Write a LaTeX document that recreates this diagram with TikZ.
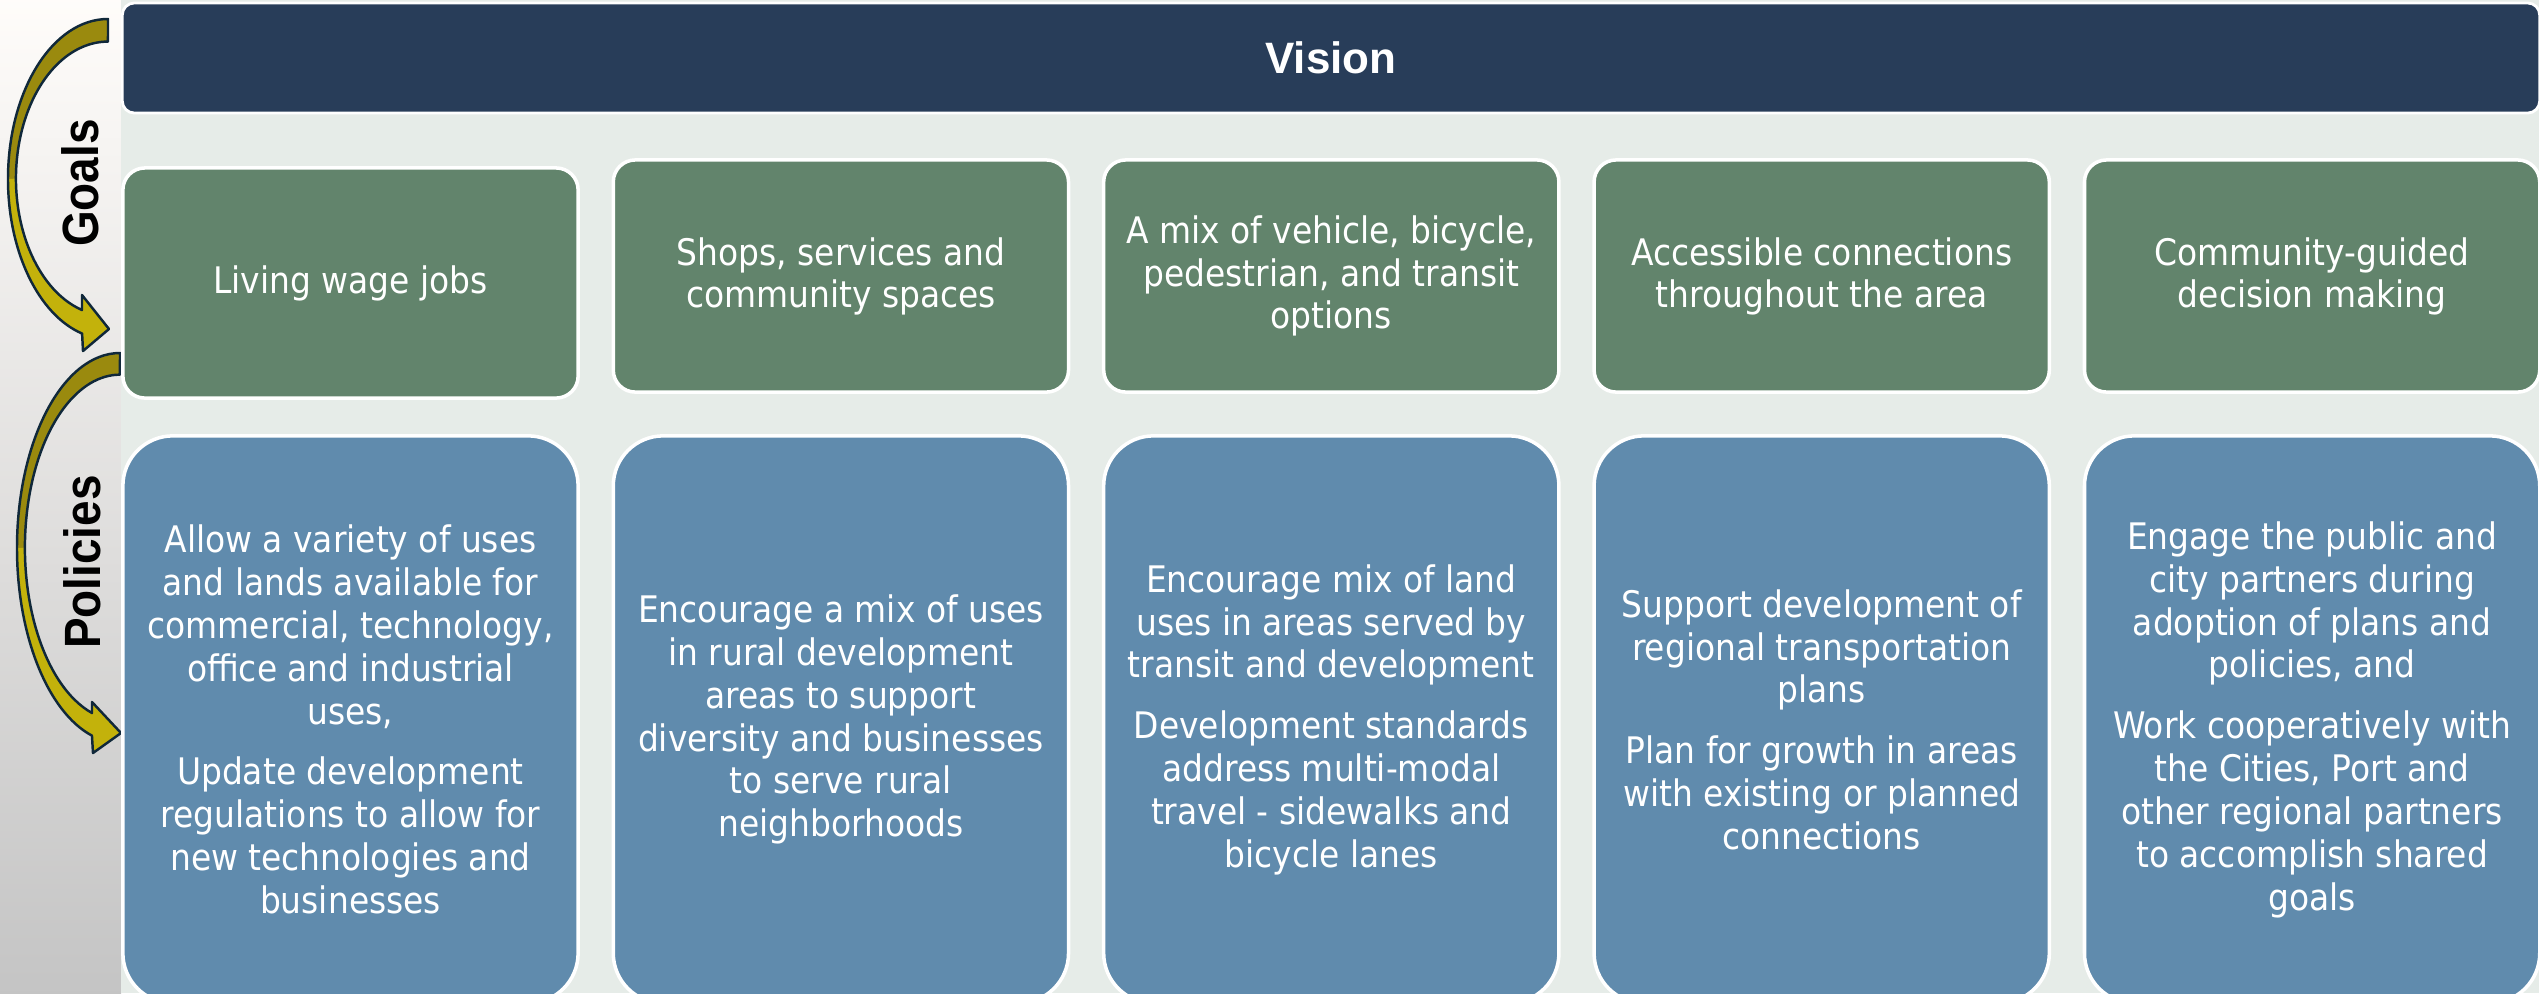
\documentclass[tikz,border=0pt]{standalone}
\usepackage{fontspec}
\setmainfont{DejaVu Sans}[FakeStretch=0.9]
\newfontfamily\labelfont{Liberation Sans}[FakeStretch=0.9]
\newfontfamily\titlefont{Liberation Sans}

\definecolor{visionblue}{HTML}{283D59}
\definecolor{goalgreen}{HTML}{62846C}
\definecolor{policyblue}{HTML}{608BAD}
\definecolor{panelbg}{HTML}{E6ECE8}
\definecolor{olivedark}{HTML}{9A8A0E}
\definecolor{olivelight}{HTML}{C3B20B}
\definecolor{arrowedge}{HTML}{10283A}

\begin{document}
\begin{tikzpicture}[x=0.01cm,y=-0.01cm,
  visionbar/.style={fill=visionblue,draw=white,line width=0.8pt,rounded corners=0.12cm,
    minimum width=24.16cm,minimum height=1.1cm,text=white,
    font=\titlefont\bfseries\fontsize{12.5}{14}\selectfont},
  goalbox/.style={fill=goalgreen,draw=white,line width=1pt,rounded corners=0.22cm,
    minimum width=4.55cm,minimum height=2.32cm,text=white,align=center,
    font=\fontsize{10.4}{12}\selectfont},
  policybox/.style={fill=policyblue,draw=white,line width=1pt,rounded corners=0.5cm,
    minimum width=4.55cm,minimum height=5.67cm,text=white,align=center,
    font=\fontsize{10.4}{12.2}\selectfont},
  sidelabel/.style={rotate=90,font=\labelfont\bfseries\fontsize{14.5}{16}\selectfont},
  bentarrow/.style={draw=arrowedge,line width=0.7pt,line join=round}]
  \useasboundingbox (0,0) rectangle (2539,993);
  % fondo: franja gris a la izquierda, panel claro
  \shade[top color=black!8!orange!2,middle color=black!12,bottom color=black!23] (0,0) rectangle (121,993);
  \fill[panelbg] (121,0) rectangle (2539,993);

  % flecha curva superior (Goals)
  \fill[olivedark] (108,19) arc[start angle=270,end angle=180,x radius=100,y radius=160]
    -- (16,179) arc[start angle=180,end angle=270,x radius=92,y radius=137] -- cycle;
  \fill[olivelight] (8,179) arc[start angle=180,end angle=105,x radius=100,y radius=160]
    -- (83,351) -- (109,329) -- (82,295) -- (82,310)
    arc[start angle=106.4,end angle=180,x radius=92,y radius=137] -- cycle;
  \draw[bentarrow] (108,19) arc[start angle=270,end angle=105,x radius=100,y radius=160]
    -- (83,351) -- (109,329) -- (82,295) -- (82,310)
    arc[start angle=106.4,end angle=270,x radius=92,y radius=137] -- cycle;
  % flecha curva inferior (Policies)
  \fill[olivedark] (120,353) arc[start angle=270,end angle=180,x radius=103,y radius=195]
    -- (25,548) arc[start angle=180,end angle=270,x radius=95,y radius=173] -- cycle;
  \fill[olivelight] (17,548) arc[start angle=180,end angle=105.8,x radius=103,y radius=195]
    -- (93,753) -- (121,733) -- (92,702) -- (92,713)
    arc[start angle=107.1,end angle=180,x radius=95,y radius=173] -- cycle;
  \draw[bentarrow] (120,353) arc[start angle=270,end angle=105.8,x radius=103,y radius=195]
    -- (93,753) -- (121,733) -- (92,702) -- (92,713)
    arc[start angle=107.1,end angle=270,x radius=95,y radius=173] -- cycle;

  \node[sidelabel] (goalslabel) at (80,183) {Goals};
  \node[sidelabel] (policieslabel) at (82,562) {Policies};

  % vision
  \node[visionbar] (vision) at (1331,58) {Vision};

  % goals (la primera un poco mas abajo)
  \node[goalbox,minimum height=2.3cm] (goal1) at (350.5,283) {Living wage jobs};
  \node[goalbox] (goal2) at (840.9,276) {Shops, services and\\community spaces};
  \node[goalbox] (goal3) at (1331.3,276) {A mix of vehicle, bicycle,\\pedestrian, and transit\\options};
  \node[goalbox] (goal4) at (1821.7,276) {Accessible connections\\throughout the area};
  \node[goalbox] (goal5) at (2312.1,276) {Community-guided\\decision making};

  % policies
  \node[policybox] (pol1) at (350.5,719.5) {Allow a variety of uses\\and lands available for\\commercial, technology,\\office and industrial\\uses,\\[5pt]
    Update development\\regulations to allow for\\new technologies and\\businesses};
  \node[policybox] (pol2) at (840.9,719.5) {Encourage a mix of uses\\in rural development\\areas to support\\diversity and businesses\\to serve rural\\neighborhoods};
  \node[policybox] (pol3) at (1331.3,719.5) {Encourage mix of land\\uses in areas served by\\transit and development\\[5pt]
    Development standards\\address multi-modal\\travel - sidewalks and\\bicycle lanes};
  \node[policybox] (pol4) at (1821.7,719.5) {Support development of\\regional transportation\\plans\\[5pt]
    Plan for growth in areas\\with existing or planned\\connections};
  \node[policybox] (pol5) at (2312.1,719.5) {Engage the public and\\city partners during\\adoption of plans and\\policies, and\\[5pt]
    Work cooperatively with\\the Cities, Port and\\other regional partners\\to accomplish shared\\goals};
\end{tikzpicture}
\end{document}
